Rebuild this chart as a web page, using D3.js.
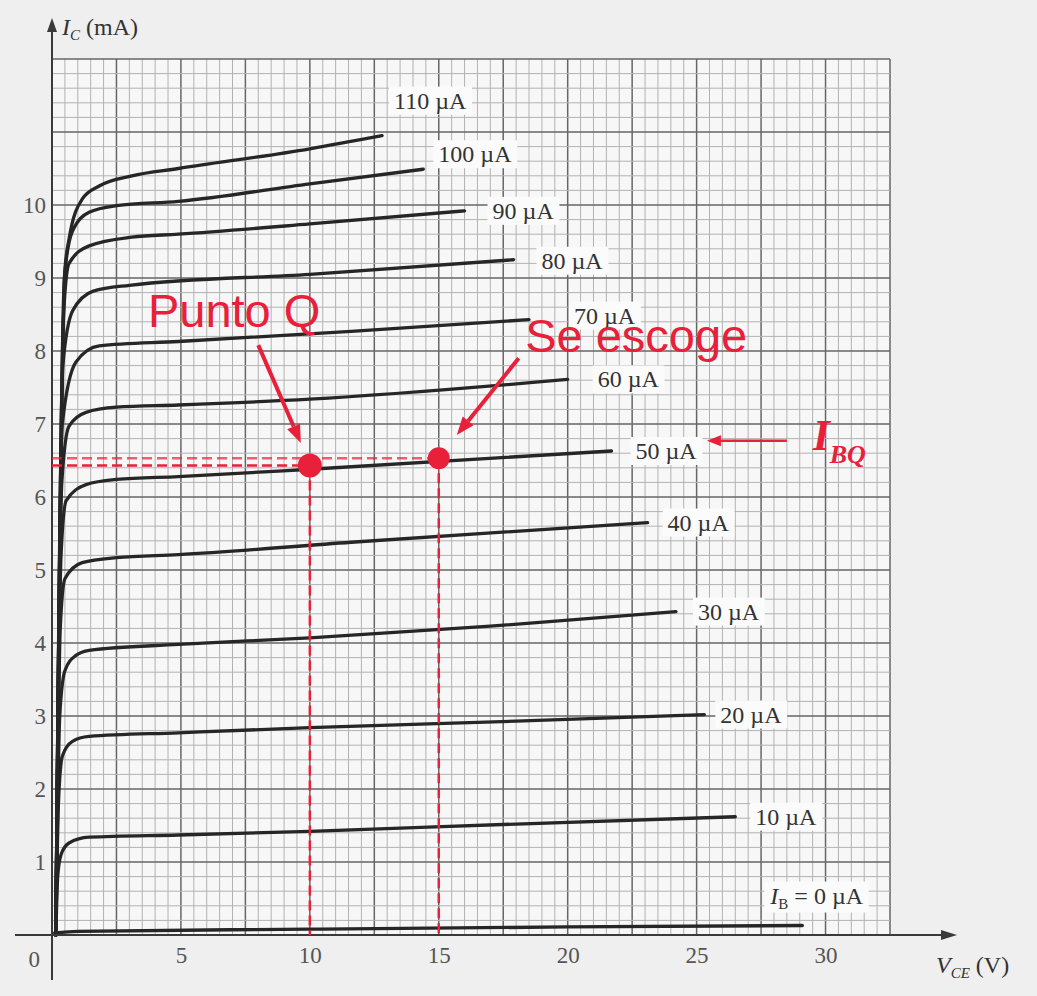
<!DOCTYPE html>
<html>
<head>
<meta charset="utf-8">
<script src="https://cdn.jsdelivr.net/npm/d3@7"></script>
<style>
  body { margin: 0; background: #efefef; }
  svg { display: block; }
</style>
</head>
<body>
<div id="chart"></div>
<script>
// Input data -------------------------------------------------
// base currents (uA) and one [VCE (V), IC (mA)] list per curve
var ibValues = [0, 10, 20, 30, 40, 50, 60, 70, 80, 90, 100, 110];

var curveIb0   = [[0.1,0.03],[1,0.05],[10,0.08],[20,0.11],[29.1,0.13]];
var curveIb10  = [[0.15,0],[0.22,0.8],[0.35,1.1],[0.66,1.26],[1.44,1.34],[4.9,1.37],[10,1.42],[18,1.52],[26.5,1.62]];
var curveIb20  = [[0.15,0],[0.25,1.8],[0.4,2.45],[0.78,2.65],[1.44,2.72],[4.9,2.77],[10,2.84],[18,2.93],[25.3,3.02]];
var curveIb30  = [[0.15,0],[0.3,3.0],[0.5,3.62],[0.93,3.83],[1.44,3.9],[4.9,3.98],[10,4.07],[17,4.23],[24.2,4.43]];
var curveIb40  = [[0.15,0],[0.32,4.2],[0.5,4.88],[1.17,5.1],[2.5,5.17],[4.9,5.21],[11.6,5.38],[23.1,5.65]];
var curveIb50  = [[0.15,0],[0.35,5.2],[0.55,5.95],[1.32,6.17],[2.5,6.24],[4.9,6.28],[10,6.38],[21.7,6.63]];
var curveIb60  = [[0.15,0],[0.38,6.2],[0.66,6.97],[1.32,7.16],[2.5,7.23],[4.9,7.26],[10,7.34],[20,7.61]];
var curveIb70  = [[0.15,0],[0.4,7.0],[0.93,7.85],[1.83,8.07],[4.9,8.13],[11.6,8.27],[18.5,8.43]];
var curveIb80  = [[0.15,0],[0.42,7.8],[0.8,8.55],[1.6,8.82],[3,8.9],[10,9.05],[17.9,9.25]];
var curveIb90  = [[0.15,0],[0.45,8.5],[0.66,9.2],[1.44,9.44],[3.1,9.56],[4.9,9.6],[10,9.74],[16,9.92]];
var curveIb100 = [[0.15,0],[0.48,9.0],[0.78,9.63],[1.44,9.9],[2.5,9.99],[4.9,10.05],[10,10.29],[14.4,10.49]];
var curveIb110 = [[0.15,0],[0.5,9.1],[0.66,9.53],[1.17,10.08],[1.83,10.26],[3.1,10.4],[4.9,10.5],[10,10.77],[12.8,10.95]];

var curves = [curveIb0, curveIb10, curveIb20, curveIb30, curveIb40, curveIb50,
              curveIb60, curveIb70, curveIb80, curveIb90, curveIb100, curveIb110];

var xTicks = [5, 10, 15, 20, 25, 30];
var yTicks = [1, 2, 3, 4, 5, 6, 7, 8, 9, 10];

var qPoint = [10, 6.43];      // Punto Q
var chosenPoint = [15, 6.53]; // Se escoge
// END data ---------------------------------------------------

var width = 1037, height = 996;
var red = '#e8203a';
var serif = '"Liberation Serif", "Times New Roman", serif';
var sans = '"Liberation Sans", Arial, sans-serif';

var x = d3.scaleLinear().domain([0, 32.5]).range([52, 890]),
    y = d3.scaleLinear().domain([0, 12]).range([935, 59]);

var svg = d3.select('#chart').append('svg')
    .attr('width', width)
    .attr('height', height);

svg.append('rect').attr('width', width).attr('height', height).attr('fill', '#efefef');

// graph paper ------------------------------------------------
var grid = svg.append('g');
grid.append('rect')
    .attr('x', x(0)).attr('y', y(12))
    .attr('width', x(32.5) - x(0)).attr('height', y(0) - y(12))
    .attr('fill', '#f7f7f7');

var vLines = d3.range(0, 66); // every 0.5 V
grid.selectAll('.vline').data(vLines).enter().append('line')
    .attr('x1', function(i){ return x(i * 0.5); })
    .attr('x2', function(i){ return x(i * 0.5); })
    .attr('y1', y(0)).attr('y2', y(12))
    .attr('stroke', function(i){ return i % 5 === 0 ? '#666' : '#b2b2b2'; })
    .attr('stroke-width', function(i){ return i % 5 === 0 ? 1.5 : 1; });

var hLines = d3.range(0, 61); // every 0.2 mA
grid.selectAll('.hline').data(hLines).enter().append('line')
    .attr('y1', function(i){ return y(i * 0.2); })
    .attr('y2', function(i){ return y(i * 0.2); })
    .attr('x1', x(0)).attr('x2', x(32.5))
    .attr('stroke', function(i){ return i % 5 === 0 ? '#666' : '#b2b2b2'; })
    .attr('stroke-width', function(i){ return i % 5 === 0 ? 1.5 : 1; });

// curves -----------------------------------------------------
var line = d3.line()
    .x(function(d){ return x(d[0]); })
    .y(function(d){ return y(d[1]); })
    .curve(d3.curveMonotoneX);

svg.append('g').selectAll('path').data(curves).enter().append('path')
    .attr('d', line)
    .attr('fill', 'none')
    .attr('stroke', '#262626')
    .attr('stroke-width', 3.3)
    .attr('stroke-linecap', 'round');

// curve labels (pixel offsets from the end of each curve)
var labelOffset = {0:[-32,-30], 10:[20,0], 20:[16,0], 30:[22,0], 40:[20,0], 50:[24,0],
                   60:[30,0], 70:[45,-4], 80:[28,1], 90:[28,0], 100:[15,-15], 110:[12,-35]};

var labels = svg.append('g');
ibValues.forEach(function(ib, k){
    var end = curves[k][curves[k].length - 1];
    var off = labelOffset[ib];
    var lx = x(end[0]) + off[0], ly = y(end[1]) + off[1];
    var g = labels.append('g');
    var bg = g.append('rect').attr('fill', '#fbfbfb');
    var t = g.append('text')
        .attr('x', lx).attr('y', ly + 8)
        .attr('font-family', serif).attr('font-size', 24)
        .attr('fill', '#333');
    if (ib === 0) {
        t.append('tspan').attr('font-style', 'italic').text('I');
        t.append('tspan').attr('font-size', 15).attr('dy', 5).text('B');
        t.append('tspan').attr('dy', -5).text(' = 0 \u00b5A');
    } else {
        t.text(ib + ' \u00b5A');
    }
    var b = t.node().getBBox();
    bg.attr('x', b.x - 5).attr('y', b.y - 1).attr('width', b.width + 10).attr('height', b.height + 2);
});

// axes -------------------------------------------------------
var axes = svg.append('g').attr('stroke', '#3a3a3a').attr('fill', '#3a3a3a');
axes.append('line').attr('x1', 15).attr('x2', 945).attr('y1', y(0)).attr('y2', y(0)).attr('stroke-width', 2);
axes.append('line').attr('x1', x(0)).attr('x2', x(0)).attr('y1', 980).attr('y2', 26).attr('stroke-width', 2);
axes.append('path')
    .attr('d', 'M' + 957 + ',' + y(0) + 'l-16,-5l0,10z').attr('stroke', 'none');
axes.append('path')
    .attr('d', 'M' + x(0) + ',18l-5,14l10,0z').attr('stroke', 'none');

var xAxis = d3.axisBottom(x).tickValues(xTicks).tickSize(0).tickPadding(12);
var gx = svg.append('g').attr('transform', 'translate(0,' + y(0) + ')').call(xAxis);
gx.select('.domain').remove();
gx.selectAll('text').attr('font-family', serif).attr('font-size', 23).attr('fill', '#555');

var yAxis = d3.axisLeft(y).tickValues(yTicks).tickSize(0).tickPadding(6);
var gy = svg.append('g').attr('transform', 'translate(' + x(0) + ',0)').call(yAxis);
gy.select('.domain').remove();
gy.selectAll('text').attr('font-family', serif).attr('font-size', 23).attr('fill', '#555');

svg.append('text').attr('x', x(0) - 12).attr('y', 967)
    .attr('text-anchor', 'end')
    .attr('font-family', serif).attr('font-size', 23).attr('fill', '#555').text('0');

var yTitle = svg.append('text').attr('x', 62).attr('y', 35)
    .attr('font-family', serif).attr('font-size', 24).attr('fill', '#333');
yTitle.append('tspan').attr('font-style', 'italic').text('I');
yTitle.append('tspan').attr('font-size', 15).attr('dy', 5).attr('font-style', 'italic').text('C');
yTitle.append('tspan').attr('dy', -5).text(' (mA)');

var xTitle = svg.append('text').attr('x', 936).attr('y', 973)
    .attr('font-family', serif).attr('font-size', 24).attr('fill', '#333');
xTitle.append('tspan').attr('font-style', 'italic').text('V');
xTitle.append('tspan').attr('font-size', 15).attr('dy', 5).attr('font-style', 'italic').text('CE');
xTitle.append('tspan').attr('dy', -5).text(' (V)');

// annotations ------------------------------------------------
var ann = svg.append('g');

function dashed(x1, y1, x2, y2, op) {
    ann.append('line')
        .attr('x1', x(x1)).attr('y1', y(y1)).attr('x2', x(x2)).attr('y2', y(y2))
        .attr('stroke', red).attr('stroke-width', 2.5)
        .attr('stroke-dasharray', '10,5').attr('opacity', op);
}
dashed(0, chosenPoint[1], chosenPoint[0], chosenPoint[1], 0.7);
dashed(0, qPoint[1], qPoint[0], qPoint[1], 1);
dashed(qPoint[0], qPoint[1], qPoint[0], 0, 1);
dashed(chosenPoint[0], chosenPoint[1], chosenPoint[0], 0, 1);

ann.selectAll('circle').data([qPoint, chosenPoint]).enter().append('circle')
    .attr('cx', function(d){ return x(d[0]); })
    .attr('cy', function(d){ return y(d[1]); })
    .attr('r', function(d, i){ return i === 0 ? 12 : 11; })
    .attr('fill', red);

function arrow(from, to, w, headLen, headWid) {
    var x1 = x(from[0]), y1 = y(from[1]), x2 = x(to[0]), y2 = y(to[1]);
    var a = Math.atan2(y2 - y1, x2 - x1);
    var bx = x2 - headLen * Math.cos(a), by = y2 - headLen * Math.sin(a);
    ann.append('line').attr('x1', x1).attr('y1', y1).attr('x2', bx).attr('y2', by)
        .attr('stroke', red).attr('stroke-width', w);
    var px = headWid / 2 * Math.sin(a), py = headWid / 2 * Math.cos(a);
    ann.append('path')
        .attr('d', 'M' + x2 + ',' + y2 + 'L' + (bx + px) + ',' + (by - py) + 'L' + (bx - px) + ',' + (by + py) + 'Z')
        .attr('fill', red);
}
arrow([8.0, 8.08], [9.65, 6.74], 4, 18, 14);
arrow([18.1, 7.9], [15.7, 6.85], 4, 18, 14);
arrow([28.5, 6.77], [25.4, 6.77], 2.5, 14, 11);

ann.append('text').attr('x', x(3.72)).attr('y', y(8.33))
    .attr('font-family', sans).attr('font-size', 47).attr('fill', red).text('Punto Q');
ann.append('text').attr('x', x(18.35)).attr('y', y(7.99))
    .attr('font-family', sans).attr('font-size', 47).attr('fill', red).text('Se escoge');

var ibq = ann.append('text').attr('x', x(29.5)).attr('y', y(6.64))
    .attr('font-family', serif).attr('font-weight', 'bold').attr('font-style', 'italic')
    .attr('font-size', 44).attr('fill', red);
ibq.append('tspan').text('I');
ibq.append('tspan').attr('font-size', 26).attr('dy', 13).text('BQ');
</script>
</body>
</html>
